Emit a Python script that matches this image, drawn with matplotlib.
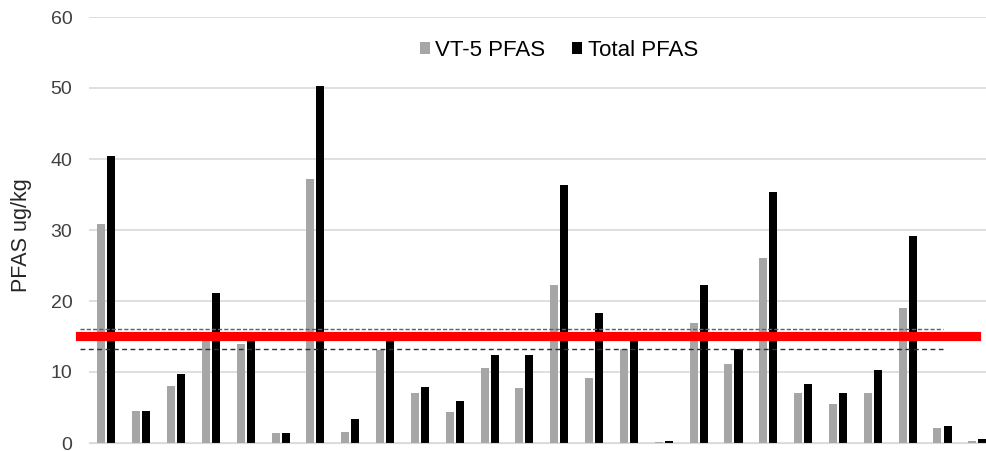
import numpy as np
import matplotlib
matplotlib.use("Agg")
from matplotlib import pyplot as plt

plt.rcParams['font.family'] = ['Liberation Sans', 'DejaVu Sans']

# ---------------------------
# Data
# ---------------------------
sites = list(range(1, 27))
vt5_pfas = [30.8, 4.55, 8.0, 14.6, 13.9, 1.45, 37.2, 1.5, 13.1, 7.0, 4.3, 10.5, 7.8,
            22.3, 9.1, 13.2, 0.2, 16.9, 11.1, 26.1, 7.0, 5.5, 7.0, 19.0, 2.1, 0.3]
total_pfas = [40.4, 4.55, 9.7, 21.1, 14.6, 1.45, 50.3, 3.4, 14.4, 7.9, 5.9, 12.4, 12.4,
              36.3, 18.3, 14.7, 0.3, 22.3, 13.2, 35.4, 8.3, 7.0, 10.3, 29.2, 2.45, 0.5]
red_level = 15.05
upper_dash = 16.0
lower_dash = 13.2

# ---------------------------
# Figure
# ---------------------------
fig = plt.figure(figsize=(9.86, 4.51), dpi=100)
ax = fig.add_axes([89 / 986, 1 - 443 / 451, 897 / 986, (443 - 17) / 451])

x = np.arange(len(sites))
w = 0.23
ax.bar(x - 0.145, vt5_pfas, w, color="#a6a6a6", label="VT-5 PFAS", zorder=2)
ax.bar(x + 0.145, total_pfas, w, color="black", label="Total PFAS", zorder=2)

# reference lines
ax.axhline(upper_dash, xmin=-0.01, xmax=0.952, color="#606060", lw=1.0,
           ls=(0, (3, 1.5)), clip_on=False, zorder=3)
ax.axhline(lower_dash, xmin=-0.01, xmax=0.952, color="#303030", lw=1.0,
           ls=(0, (3.5, 2.5)), clip_on=False, zorder=3)
ax.axhline(red_level, xmin=-0.01, xmax=0.989, color="#ff0000", lw=6.6,
           clip_on=False, zorder=4)

ax.set_xlim(-0.5, 25.25)
ax.set_ylim(0, 60)
ax.set_yticks(range(0, 61, 10))
ax.set_xticks([])
ax.tick_params(axis="y", length=0, labelsize=14, labelcolor="#404040", pad=12)
ax.grid(axis="y", color="#d9d9d9", lw=1.2, zorder=0)
ax.set_axisbelow(True)
for s in ["top", "right", "left"]:
    ax.spines[s].set_visible(False)
ax.spines["bottom"].set_color("#d9d9d9")

fig.text(22 / 986, 1 - 235 / 451, "PFAS ug/kg", rotation=90, fontsize=15.5,
         color="#262626", ha="center", va="center")

ax.legend(loc="center", bbox_to_anchor=(559 / 986, 1 - 50 / 451),
          bbox_transform=fig.transFigure, ncol=2, frameon=False,
          fontsize=16, handlelength=0.45, handleheight=0.45, handletextpad=0.25,
          columnspacing=1.2)

plt.savefig("out.png", dpi=100)
